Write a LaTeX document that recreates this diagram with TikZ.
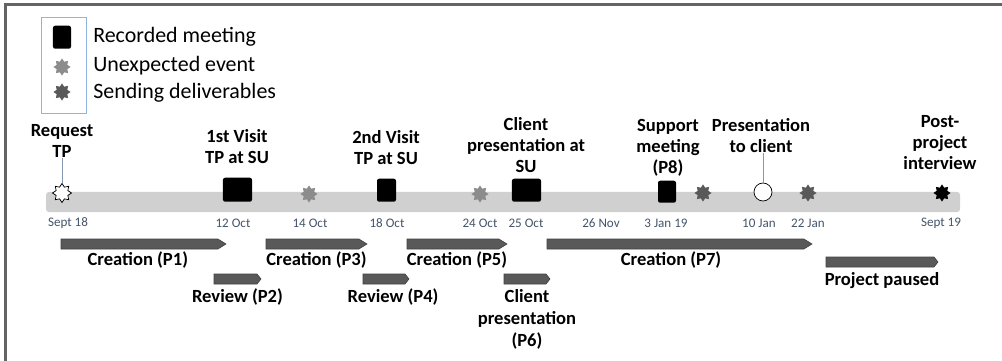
\documentclass[tikz,border=0pt]{standalone}
\usepackage{fontspec}
\setmainfont{Carlito}
\usepackage{tikz}
\usetikzlibrary{positioning}
\usetikzlibrary{shapes.geometric}
\definecolor{barg}{RGB}{208,208,208}
\definecolor{evtg}{RGB}{140,140,140}
\definecolor{delg}{RGB}{89,89,89}
\definecolor{dateb}{RGB}{68,84,106}
\definecolor{legb}{RGB}{142,180,227}
\definecolor{stalkb}{RGB}{132,151,176}
\definecolor{framg}{RGB}{100,100,100}
\tikzstyle{meet}=[fill=black,rounded corners=1.5pt,inner sep=0,anchor=south]
\tikzstyle{evt}=[star,star points=8,star point ratio=1.5,fill=evtg,inner sep=0,minimum size=0.43cm]
\tikzstyle{dlv}=[evt,fill=delg]
\tikzstyle{dt}=[text=dateb,inner sep=0,font=\fontsize{9.3}{11}\selectfont]
\tikzstyle{lbl}=[align=center,inner sep=0,anchor=south,font=\fontsize{13.2}{15}\selectfont\bfseries]
\tikzstyle{phlbl}=[align=center,inner sep=0,font=\fontsize{13.2}{15.6}\selectfont\bfseries]
\tikzstyle{phase}=[fill=delg,draw=black!75,line width=0.4pt]
\tikzstyle{legtxt}=[anchor=west,inner sep=0,font=\fontsize{15.6}{18}\selectfont]
\tikzstyle{stalk}=[draw=stalkb,line width=0.5pt]
% bar of a phase: name, from, to, top, tip
\newcommand{\phasebar}[5]{\draw[phase] (#2,#4) -- (#3-#5,#4) -- (#3,#4+5) -- (#3-#5,#4+10) -- (#2,#4+10) -- cycle;
  \coordinate (#1) at ({(#2+#3)/2},#4+10);}

\begin{document}
\begin{tikzpicture}[x=0.025cm,y=-0.025cm]
  \useasboundingbox (0,0) rectangle (1002,361);
  \draw[framg,line width=1.5pt] (5.5,361) -- (5.5,4.5) -- (1002,4.5);

  % legend
  \draw[legb,line width=0.5pt] (41,17) rectangle (86,113);
  \node[meet,minimum width=0.45cm,minimum height=0.575cm] (lgm) at (62,49) {};
  \node[evt] (lge) at (62,67) {};
  \node[dlv] (lgd) at (62,92) {};
  \node[legtxt] (lgmt) at (93,37) {Recorded meeting};
  \node[legtxt] (lget) at (93,66) {Unexpected event};
  \node[legtxt] (lgdt) at (93,93) {Sending deliverables};

  % time line
  \fill[barg,rounded corners=2pt] (46,192) rectangle (960,212);

  \node[evt,fill=white,draw=black,line width=0.5pt,minimum size=0.475cm] (rq) at (62,193) {};
  \node[meet,minimum width=0.725cm,minimum height=0.6cm] (v1) at (237.5,202) {};
  \node[evt] (e1) at (309,194) {};
  \node[meet,minimum width=0.475cm,minimum height=0.575cm] (v2) at (386.5,202) {};
  \node[evt] (e2) at (480,194) {};
  \node[meet,minimum width=0.725cm,minimum height=0.575cm] (cp) at (526.5,202) {};
  \node[meet,minimum width=0.45cm,minimum height=0.55cm] (sm) at (667,203) {};
  \node[dlv] (d1) at (703,193) {};
  \node[circle,draw=black,fill=white,line width=0.5pt,inner sep=0,minimum size=0.45cm] (pc) at (763,192) {};
  \node[dlv] (d2) at (808,193) {};
  \node[evt,fill=black] (pi) at (942,193) {};

  \node[lbl] (rqt) at (62,158) {Request\\TP};
  \node[lbl] (v1t) at (237,164) {1st Visit\\TP at SU};
  \node[lbl] (v2t) at (386,165) {2nd Visit\\TP at SU};
  \node[lbl] (cpt) at (526,173) {Client\\presentation at\\SU};
  \node[lbl] (smt) at (668,177) {Support\\meeting\\(P8)};
  \node[lbl] (pct) at (761,153) {Presentation\\to client};
  \node[lbl] (pit) at (940,170) {Post-\\project\\interview};
  \draw[stalk] (rq.north) -- (rq.north |- rqt.south);
  \draw[stalk] (pc.north) -- (pc.north |- pct.south);

  % dates
  \node[dt] (t1) at (68,223) {Sept 18};
  \node[dt] (t2) at (233,223) {12 Oct};
  \node[dt] (t3) at (310,223) {14 Oct};
  \node[dt] (t4) at (387,223) {18 Oct};
  \node[dt] (t5) at (480,223) {24 Oct};
  \node[dt] (t6) at (526,223) {25 Oct};
  \node[dt] (t7) at (601,223) {26 Nov};
  \node[dt] (t8) at (666,223) {3 Jan 19};
  \node[dt] (t9) at (759,223) {10 Jan};
  \node[dt] (t10) at (808,223) {22 Jan};
  \node[dt] (t11) at (941,223) {Sept 19};

  % phases
  \phasebar{p1}{61}{226}{239}{8}
  \phasebar{p2}{214}{261}{274}{4}
  \phasebar{p3}{266}{367}{239}{8}
  \phasebar{p4}{363}{409}{274}{4}
  \phasebar{p5}{407}{507}{239}{8}
  \phasebar{p6}{504}{550}{274}{4}
  \phasebar{p7}{547}{812}{239}{8}
  \phasebar{pp}{826}{938}{257}{4}
  \node[phlbl,below=2pt of p1,xshift=-4pt] (p1t) {Creation (P1)};
  \node[phlbl,below=3pt of p2] (p2t) {Review (P2)};
  \node[phlbl,below=2pt of p3] (p3t) {Creation (P3)};
  \node[phlbl,below=3pt of p4,xshift=5pt] (p4t) {Review (P4)};
  \node[phlbl,below=2pt of p5] (p5t) {Creation (P5)};
  \node[phlbl,below=4pt of p6] (p6t) {Client\\presentation\\(P6)};
  \node[phlbl,below=2pt of p7,xshift=-6pt] (p7t) {Creation (P7)};
  \node[phlbl,below=4pt of pp] (ppt) {Project paused};
\end{tikzpicture}
\end{document}
